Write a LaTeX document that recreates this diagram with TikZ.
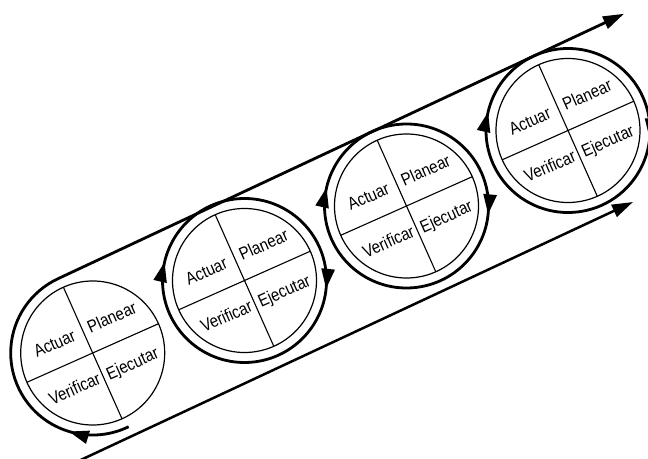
\documentclass[tikz,border=0pt]{standalone}
\usepackage{fontspec}
\setmainfont{Liberation Sans}
\newfontfamily\lblfont[FakeStretch=0.86]{Liberation Sans}
\usetikzlibrary{arrows.meta,decorations.markings,calc}
\tikzset{
  rtip/.tip={Triangle[length=20pt,width=13pt]},
  ltip/.tip={Triangle[length=21pt,width=13pt]},
}
\begin{document}
\begin{tikzpicture}[x=1pt,y=1pt,
  ring/.style={line width=2.8pt},
  tape/.style={line width=2.5pt},
  innerc/.style={line width=1.2pt},
  crossline/.style={line width=1.1pt},
  lbl/.style={font=\lblfont\fontsize{17.5}{18}\selectfont, inner sep=0pt, rotate=24},
]
\useasboundingbox (0,0) rectangle (648,458);
\clip (0,0) rectangle (648,458);
\coordinate (C1) at (92.7,105);
\coordinate (C2) at (244.5,177.5);
\coordinate (C3) at (406.5,252);
\coordinate (C4) at (568,327.5);
\coordinate (E1) at (624,444.2);
\coordinate (L0) at (80,-2.3);
\coordinate (L1) at (633,256);

\foreach \c [count=\i] in {C1,C2,C3,C4}{
  \draw[innerc] (\c) circle[radius=72];
  \draw[crossline] ($(\c)+(24:72)$) -- ($(\c)+(204:72)$);
  \draw[crossline] ($(\c)+(114:72)$) -- ($(\c)+(294:72)$);
  \begin{scope}[shift={(\c)}, rotate=24]
    \node[lbl] (act\i) at (-31,24) {Actuar};
    \node[lbl] (pla\i) at (32,25) {Planear};
    \node[lbl] (eje\i) at (32,-27) {Ejecutar};
    \node[lbl] (ver\i) at (-31,-25) {Verificar};
  \end{scope}
}

% rings of circles 2-4
\foreach \c in {C2,C3,C4}{
  \draw[ring, postaction={decorate}, decoration={markings,
      mark=at position 0.064 with {\arrow{rtip}},
      mark=at position 0.544 with {\arrow{rtip}}}]
    ($(\c)+(190:82)$) arc[start angle=190, end angle=-170, radius=82];
}

% first ring continuing into the upper line
\draw[ring, -{ltip}, postaction={decorate}, decoration={markings,
    mark=at position 61.4pt with {\arrow{rtip}}}]
  ($(C1)+(-64:82)$) arc[start angle=-64, end angle=-244.92, radius=82] -- (E1);

% lower line
\draw[tape, -{ltip}] (L0) -- (L1);
\end{tikzpicture}
\end{document}
